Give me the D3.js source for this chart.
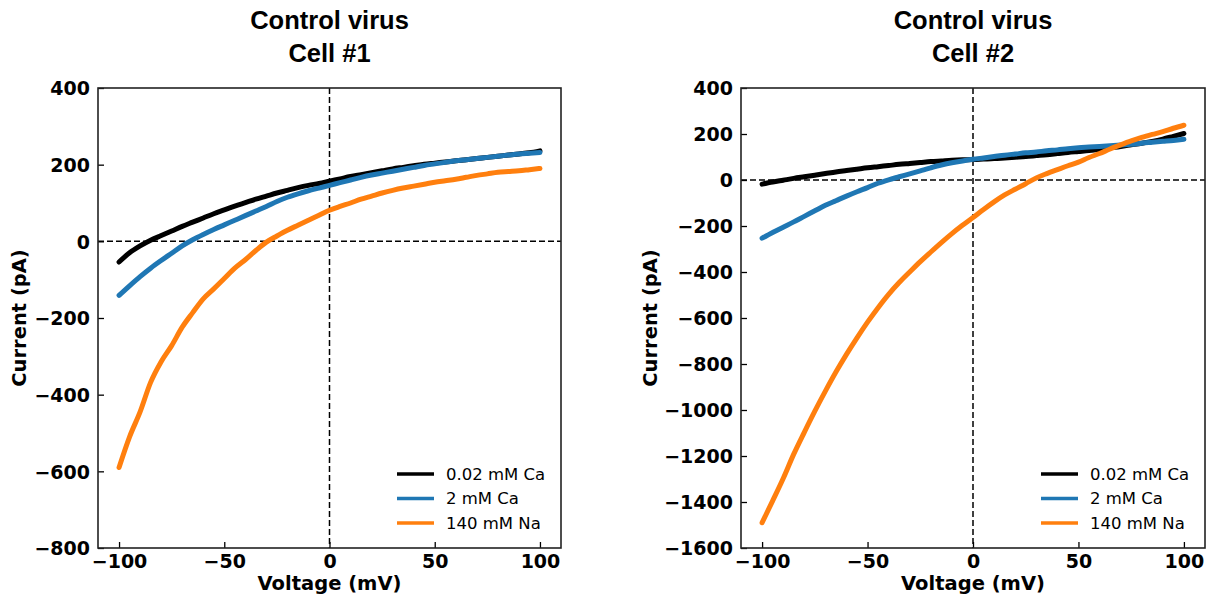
<!DOCTYPE html>
<html>
<head>
<meta charset="utf-8">
<script src="https://cdn.jsdelivr.net/npm/d3@7"></script>
<style>
  html, body { margin: 0; padding: 0; background: #fff; }
  svg { display: block; }
</style>
</head>
<body>
<svg id="chart" width="1211" height="597"></svg>
<script>
// Membrane voltage steps of the ramp (mV)
const voltage = [-100, -95, -90, -85, -80, -75, -70, -65, -60, -55, -50, -45, -40, -35, -30, -25, -20, -15, -10, -5,
  0, 5, 10, 15, 20, 25, 30, 35, 40, 45, 50, 55, 60, 65, 70, 75, 80, 85, 90, 95, 100];

// Cell #1 currents (pA)
const cell1Ca002 = [-54, -30, -12, 3, 15, 27, 39, 50, 61, 72, 82, 92, 101, 110, 118, 126, 133, 140, 146, 151,
  157, 163, 169, 174, 179, 184, 189, 193, 197, 201, 204, 207, 210, 213, 216, 219, 222, 225, 228, 231, 236];
const cell1Ca2 = [-141, -116, -92, -70, -50, -31, -12, 4, 18, 31, 43, 55, 67, 79, 91, 104, 115, 124, 132, 139,
  146, 153, 160, 167, 173, 178, 183, 188, 193, 198, 202, 206, 210, 213, 216, 219, 222, 225, 228, 230, 232];
const cell1Na140 = [-590, -510, -445, -368, -314, -272, -224, -186, -150, -124, -97, -70, -48, -24, -2, 14, 29, 42, 55, 68,
  81, 91, 100, 110, 118, 126, 133, 139, 144, 149, 154, 158, 162, 167, 172, 176, 180, 182, 184, 187, 190];

// Cell #2 currents (pA)
const cell2Ca002 = [-18, -9, -1, 7, 14, 21, 28, 35, 41, 47, 53, 58, 63, 68, 72, 76, 80, 83, 86, 88,
  89, 91, 93, 96, 99, 102, 106, 110, 115, 120, 124, 128, 134, 140, 146, 153, 160, 168, 178, 190, 202];
const cell2Ca2 = [-253, -228, -205, -182, -158, -134, -110, -90, -70, -51, -33, -14, 1, 14, 27, 40, 53, 65, 75, 83,
  90, 96, 102, 108, 113, 118, 122, 127, 131, 136, 140, 143, 146, 149, 152, 155, 160, 164, 168, 172, 177];
const cell2Na140 = [-1490, -1395, -1298, -1192, -1097, -1005, -918, -835, -758, -686, -618, -555, -497, -446, -400, -355, -313, -272, -233, -197,
  -163, -128, -95, -65, -40, -16, 9, 28, 45, 62, 78, 98, 115, 135, 153, 170, 185, 198, 210, 225, 238];

// Axis ticks
const xTicks = [-100, -50, 0, 50, 100];
const yTicksCell1 = [-800, -600, -400, -200, 0, 200, 400];
const yTicksCell2 = [-1600, -1400, -1200, -1000, -800, -600, -400, -200, 0, 200, 400];

// Series labels and colours
const seriesNames = ["0.02 mM Ca", "2 mM Ca", "140 mM Na"];
const seriesColors = ["#000000", "#1f77b4", "#ff7f0e"];

// Panel titles
const titlesCell1 = ["Control virus", "Cell #1"];
const titlesCell2 = ["Control virus", "Cell #2"];

const panels = [
  { titles: titlesCell1, series: [cell1Ca002, cell1Ca2, cell1Na140], yDomain: [-800, 400], yTicks: yTicksCell1,
    left: 98, right: 561, ylabelX: 26 },
  { titles: titlesCell2, series: [cell2Ca002, cell2Ca2, cell2Na140], yDomain: [-1600, 400], yTicks: yTicksCell2,
    left: 741, right: 1205, ylabelX: 657 }
];

const plotTop = 88, plotBottom = 548;
const svg = d3.select("#chart");
const tickFont = "'DejaVu Sans', sans-serif";
const fmt = d3.format("d");

panels.forEach(p => {
  const x = d3.scaleLinear().domain([-110, 110]).range([p.left, p.right]);
  const y = d3.scaleLinear().domain(p.yDomain).range([plotBottom, plotTop]);
  const g = svg.append("g");
  const cx = (p.left + p.right) / 2;

  // titles
  p.titles.forEach((t, i) => {
    g.append("text")
      .attr("x", cx).attr("y", 29 + i * 33)
      .attr("text-anchor", "middle")
      .attr("font-family", "'Liberation Sans', Arial, sans-serif")
      .attr("font-weight", "bold")
      .attr("font-size", 25.5)
      .attr("fill", "#000")
      .text(t);
  });

  // zero reference lines
  g.append("line")
    .attr("x1", p.left).attr("x2", p.right)
    .attr("y1", y(0)).attr("y2", y(0))
    .attr("stroke", "#000").attr("stroke-width", 1.5)
    .attr("stroke-dasharray", "6,3");
  g.append("line")
    .attr("x1", x(0)).attr("x2", x(0))
    .attr("y1", plotTop).attr("y2", plotBottom)
    .attr("stroke", "#000").attr("stroke-width", 1.5)
    .attr("stroke-dasharray", "6,3");

  // I-V traces
  const line = d3.line()
    .x((d, i) => x(voltage[i]))
    .y(d => y(d))
    .curve(d3.curveMonotoneX);
  p.series.forEach((s, k) => {
    g.append("path")
      .datum(s)
      .attr("d", line)
      .attr("fill", "none")
      .attr("stroke", seriesColors[k])
      .attr("stroke-width", 5)
      .attr("stroke-linejoin", "round")
      .attr("stroke-linecap", "round");
  });

  // axes with inward ticks
  const xAxis = g.append("g")
    .attr("transform", `translate(0,${plotBottom})`)
    .call(d3.axisBottom(x).tickValues(xTicks).tickFormat(fmt).tickSize(-6).tickPadding(8));
  const yAxis = g.append("g")
    .attr("transform", `translate(${p.left},0)`)
    .call(d3.axisLeft(y).tickValues(p.yTicks).tickFormat(fmt).tickSize(-6).tickPadding(8));
  [xAxis, yAxis].forEach(a => {
    a.select(".domain").remove();
    a.selectAll(".tick line").attr("stroke", "#000").attr("stroke-width", 1.3);
    a.selectAll(".tick text")
      .attr("font-family", tickFont)
      .attr("font-weight", "bold")
      .attr("font-size", 19)
      .attr("fill", "#000");
  });
  xAxis.selectAll(".tick text").attr("dy", null).attr("y", 20);
  yAxis.selectAll(".tick text").attr("dy", "0.36em");

  // frame
  g.append("rect")
    .attr("x", p.left).attr("y", plotTop)
    .attr("width", p.right - p.left).attr("height", plotBottom - plotTop)
    .attr("fill", "none").attr("stroke", "#222").attr("stroke-width", 1.6);

  // axis labels
  g.append("text")
    .attr("x", cx).attr("y", 590)
    .attr("text-anchor", "middle")
    .attr("font-family", tickFont).attr("font-weight", "bold").attr("font-size", 19.5)
    .attr("fill", "#000")
    .text("Voltage (mV)");
  g.append("text")
    .attr("transform", `translate(${p.ylabelX},${(plotTop + plotBottom) / 2}) rotate(-90)`)
    .attr("text-anchor", "middle")
    .attr("font-family", tickFont).attr("font-weight", "bold").attr("font-size", 19.5)
    .attr("fill", "#000")
    .text("Current (pA)");

  // legend
  const lx = p.right - 164;
  seriesNames.forEach((name, k) => {
    const ly = 474 + k * 24.5;
    g.append("line")
      .attr("x1", lx).attr("x2", lx + 37)
      .attr("y1", ly).attr("y2", ly)
      .attr("stroke", seriesColors[k]).attr("stroke-width", 3.5);
    g.append("text")
      .attr("x", lx + 49).attr("y", ly)
      .attr("dy", "0.36em")
      .attr("font-family", tickFont).attr("font-size", 16.5)
      .attr("fill", "#000")
      .text(name);
  });
});
</script>
</body>
</html>
